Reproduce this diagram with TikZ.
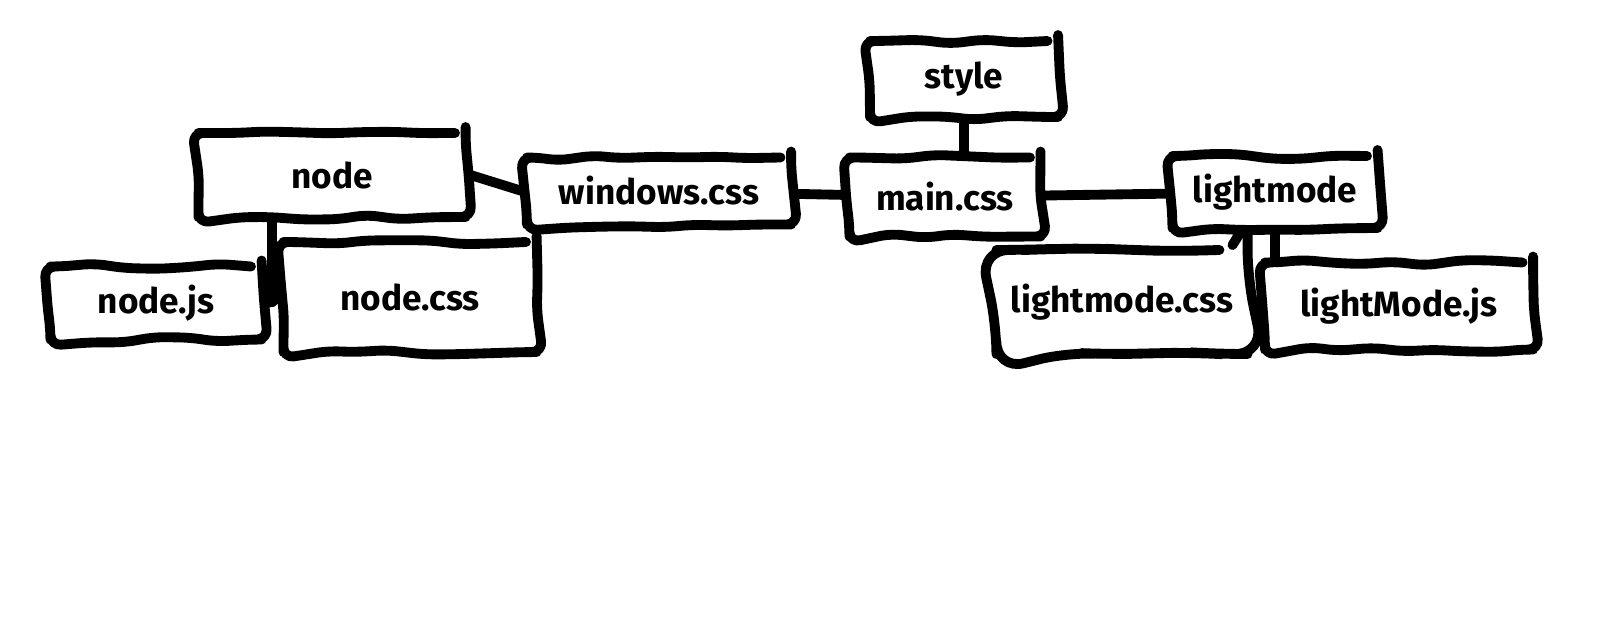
\documentclass[tikz,border=0pt]{standalone}
\usepackage{fontspec}
\setmainfont{Fira Sans}
\usetikzlibrary{positioning}
\usetikzlibrary{decorations.pathmorphing}
\tikzset{
fat/.style={line width=2.8pt},
filebox/.style 2 args={
	draw, rectangle, fat, line cap=round, line join=round,
	minimum width=#1, minimum height=#2, inner sep=0pt,
	rounded corners=3pt,
	decorate, decoration={random steps, segment length=9pt, amplitude=0.9pt},
	font=\fontsize{10}{12}\selectfont\bfseries
},
roundbox/.style 2 args={
	filebox={#1}{#2}, rounded corners=8pt,
	decoration={random steps, segment length=12pt, amplitude=0.5pt}
},
link/.style={fat, line cap=round},
}

\begin{document}
\begin{tikzpicture}[x=0.01cm, y=-0.01cm]
\useasboundingbox (0,0) rectangle (1600,620);
%Place the nodes
\node[filebox={2.67cm}{0.84cm}] (node) at (332,175) {node};
\node[filebox={2.64cm}{0.67cm}] (wincss) at (659,191) {windows.css};
\node[filebox={1.91cm}{0.79cm}] (maincss) at (945,197) {main.css};
\node[filebox={1.88cm}{0.76cm}] (style) at (964,79) {style};
\node[filebox={2.05cm}{0.72cm}] (light) at (1275,192) {lightmode};
\node[roundbox={2.51cm}{1.04cm}] (lightcss) at (1122,302) {lightmode.css};
\node[filebox={2.68cm}{0.87cm}] (lightjs) at (1399,306) {lightMode.js};
\node[filebox={2.11cm}{0.73cm}] (nodejs) at (156,303) {node.js};
\node[filebox={2.53cm}{1.10cm}] (nodecss) at (410,297) {node.css};

\coordinate (fork) at (272,302);

%Connect them
\draw[link] (node.east) -- (wincss.west);
\draw[link] (wincss) -- (maincss);
\draw[link] (style.south) -- (style.south |- maincss.north);
\draw[link] (maincss) -- (light);
\draw[link] ([xshift=-0.35cm]light.south) -- ([xshift=-0.2cm]lightcss.north east);
\draw[link] (light.south) -- (light.south |- lightjs.north);

\draw[link] (node.south -| fork) -- (fork);
\draw[link] (nodejs.east) -- (fork) -- (nodecss.west);

\end{tikzpicture}
\end{document}
